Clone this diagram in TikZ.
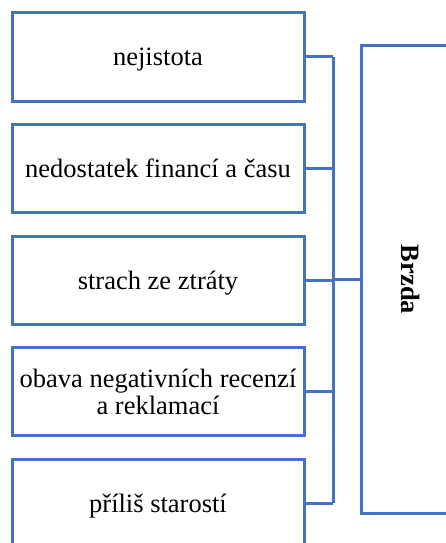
\documentclass[tikz,border=0pt]{standalone}
\usepackage{fontspec}
\setmainfont{Liberation Serif}
\usepackage{graphicx}
\usepackage{xcolor}
\usetikzlibrary{positioning, calc}
\definecolor{boxblue}{RGB}{68,114,196}
\tikzset{
  cause/.style={draw=boxblue, line width=3pt, minimum width=292pt, minimum height=88pt,
    align=center, inner sep=0pt, text depth=0pt, font=\fontsize{26.5}{27}\selectfont},
  link/.style={draw=boxblue, line width=3pt}
}

\begin{document}
\begin{tikzpicture}[x=1pt, y=-1pt]
\useasboundingbox (0,0) rectangle (446,543);
\clip (0,0) rectangle (446,543);

% Causes on the left
\node[cause] (c1) at (158,57) {nejistota};
\node[cause] (c2) at (158,168.5) {nedostatek financí a času};
\node[cause] (c3) at (158,280) {strach ze ztráty};
\node[cause] (c4) at (158,391.5) {obava negativních recenzí\\a reklamací};
\node[cause] (c5) at (158,503) {příliš starostí};

% Brake box on the right
\node[cause, text depth=, minimum width=100pt, minimum height=467pt] (brzda) at (411,279.5)
  {\rotatebox{-90}{\textbf{Brzda}}};

% Collecting bus
\coordinate (bus) at (333,0);
\foreach \i in {1,...,5} {
    \draw[link] (c\i.east) -- (c\i.east -| bus);
}
\draw[link] (c1.east -| bus) -- (c5.east -| bus);
\draw[link] (bus |- brzda.west) -- (brzda.west);

\end{tikzpicture}
\end{document}
